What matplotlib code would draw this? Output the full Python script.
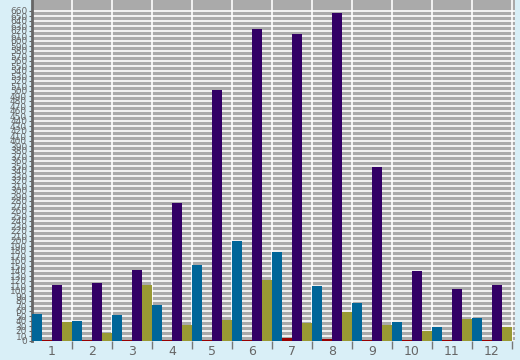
import matplotlib
matplotlib.use("Agg")
import matplotlib.pyplot as plt
import numpy as np

categories = ["1", "2", "3", "4", "5", "6", "7", "8", "9", "10", "11", "12"]
series_blue = [54, 40, 52, 72, 152, 200, 178, 110, 76, 38, 28, 46]
series_red = [2, 2, 2, 2, 2, 2, 6, 4, 2, 2, 2, 2]
series_purple = [112, 116, 142, 276, 502, 624, 614, 656, 348, 140, 104, 112]
series_olive = [38, 16, 112, 32, 42, 122, 36, 58, 32, 20, 44, 28]
y_ticks = list(range(0, 670, 10))

colors = ["#006699", "#990000", "#330066", "#999933"]
series = [series_blue, series_red, series_purple, series_olive]

fig = plt.figure(figsize=(5.2, 3.6), dpi=100, facecolor="#d9eff7")
ax = fig.add_axes([32/520, 19/360, 483/520, 341/360])
ax.set_facecolor("#aaaaaa")

x = np.arange(len(categories))
w = 0.25
for k, (vals, c) in enumerate(zip(series, colors)):
    ax.bar(x - 0.5 + w*k, vals, width=w, align="edge", color=c, zorder=3, linewidth=0)

ax.set_xlim(-0.5, 11.575)
ax.set_ylim(0, 682)

ax.set_xticks(np.arange(0.5, 12, 1))
ax.set_xticklabels([])
ax.set_xticks(x, minor=True)
ax.set_xticklabels(categories, minor=True)
ax.tick_params(axis="x", which="major", length=6, color="#777777", width=1)
ax.tick_params(axis="x", which="minor", length=0, labelsize=9, labelcolor="#666666", pad=3)

ax.set_yticks(y_ticks)
ax.set_yticklabels([str(v) for v in y_ticks], fontsize=6.5)
ax.tick_params(axis="y", length=2, color="#666666", labelcolor="#666666", pad=1.5)

ax.grid(True, which="major", color="white", linewidth=1.2, zorder=1)
ax.set_axisbelow(True)
for s in ax.spines.values():
    s.set_visible(False)
ax.spines["left"].set_visible(True)
ax.spines["left"].set_color("#666666")
ax.spines["left"].set_linewidth(2)

fig.savefig("out.png", dpi=100, facecolor=fig.get_facecolor())
